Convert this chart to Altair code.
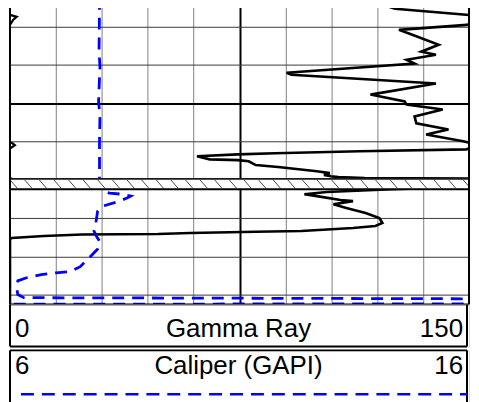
import altair as alt
import pandas as pd

# ---- scales ----
GR_MIN, GR_MAX = 0, 150
CAL_MIN, CAL_MAX = 6, 16
DEPTH_TOP, DEPTH_BOTTOM = 4973.5, 5052.5

# ---- Gamma Ray curve (depth, GAPI) ----
gr_depth = [4973.0, 4974.8, 4975.3, 4976.9, 4977.4, 4978.2, 4979.2, 4979.5, 4980.8, 4981.8,
            4984.7, 4986.5, 4987.3, 4988.6, 4989.6, 4992.0, 4992.5, 4994.8, 4997.7, 4999.5,
            5000.3, 5001.6, 5003.4, 5005.2, 5006.8, 5008.1, 5009.9, 5010.4, 5010.9, 5011.5,
            5012.0, 5012.5, 5013.0, 5013.3, 5013.8, 5014.6, 5014.8, 5015.1, 5016.1, 5016.6,
            5017.7, 5018.2, 5018.7, 5019.0, 5019.24, 5019.5, 5019.6, 5021.1, 5021.8, 5022.4,
            5023.1, 5023.7, 5024.2, 5025.2, 5025.5, 5026.3, 5027.3, 5028.6, 5029.9, 5031.2,
            5032.0, 5032.5, 5033.3, 5033.5, 5033.8, 5034.1, 5034.2, 5034.6, 5035.1, 5035.4,
            5053.0]
gr_value = [118.5, 123.9, 125.8, 150.0, 152.2, 151.0, 150.3, 149.3, 127.1, 130.6,
            140.1, 134.4, 139.2, 129.6, 132.2, 90.4, 92.0, 139.2, 117.8, 129.0,
            129.6, 141.4, 132.2, 132.8, 143.3, 136.0, 148.1, 150.8, 151.6, 150.5,
            149.2, 114.3, 86.6, 74.5, 61.1, 65.3, 74.5, 78.0, 80.3, 87.6,
            100.3, 104.5, 102.6, 104.8, 107.3, 115.9, 150.5, 151.0, 150.0, 124.8,
            103.5, 96.2, 100.3, 108.0, 112.1, 105.7, 109.9, 116.2, 120.7, 121.7,
            119.4, 112.1, 95.2, 80.3, 58.9, 48.4, 23.6, 11.1, 0.6, 0.0,
            0.0]

# ---- Caliper curve (depth, inches) ----
cal_depth = [4973.0, 4974.8, 4986.5, 4990.4, 4999.5, 5003.4, 5009.9, 5019.8, 5022.9, 5023.4,
             5023.7, 5024.2, 5024.7, 5025.7, 5026.8, 5028.1, 5031.2, 5033.3, 5034.8, 5035.9,
             5038.0, 5040.6, 5042.6, 5043.9, 5044.2, 5044.7, 5045.5, 5046.3, 5048.4, 5049.9,
             5050.7, 5051.0, 5052.3, 5052.4]
cal_value = [8.08, 7.95, 7.94, 7.96, 7.93, 7.96, 7.95, 7.95, 8.02, 8.17,
             8.44, 8.63, 8.55, 8.34, 8.02, 7.91, 7.87, 7.83, 7.89, 7.95,
             7.91, 7.70, 7.53, 7.32, 7.00, 6.68, 6.36, 6.17, 6.15, 6.17,
             6.30, 16.34, 16.34, 5.83]

# ---- grid, marker band, header texts ----
depth_grid = [4980, 4990, 5000, 5010, 5020, 5030, 5040, 5050]
heavy_depth = 5000
gr_grid = [15, 30, 45, 60, 75, 90, 105, 120, 135]
heavy_gr = 75
band_top = [5019.7]
band_bottom = [5022.4]
hatch_step = 4.777
gr_header = ["0", "Gamma Ray", "150"]
cal_header = ["6", "Caliper (GAPI)", "16"]

W, H = 461, 304
FONT = "Liberation Sans"
G = 10  # invisible guide margin that fixes the layout bounds

gr_df = pd.DataFrame({"depth": gr_depth, "gr": gr_value})
cal_df = pd.DataFrame({"depth": cal_depth, "cal": cal_value})
band_df = pd.DataFrame({"top": band_top, "bottom": band_bottom})
one = pd.DataFrame({"k": [0]})

yscale = alt.Scale(domain=[DEPTH_TOP, DEPTH_BOTTOM], reverse=True, nice=False, zero=False)
grscale = alt.Scale(domain=[GR_MIN, GR_MAX], nice=False, zero=False)
calscale = alt.Scale(domain=[CAL_MIN, CAL_MAX], nice=False, zero=False)

x_axis = alt.Axis(values=gr_grid, grid=True, labels=False, ticks=False, domain=False, title=None,
                  gridColor={"condition": {"test": f"datum.value === {heavy_gr}", "value": "#000000"},
                             "value": "#808080"},
                  gridWidth={"condition": {"test": f"datum.value === {heavy_gr}", "value": 2},
                             "value": 1},
                  gridOpacity=1)
y_axis = alt.Axis(values=depth_grid, grid=True, labels=False, ticks=False, domain=False, title=None,
                  gridColor={"condition": {"test": f"datum.value === {heavy_depth}", "value": "#000000"},
                             "value": "#3a3a3a"},
                  gridWidth={"condition": {"test": f"datum.value === {heavy_depth}", "value": 2},
                             "value": 1},
                  gridOpacity=1)

gamma = alt.Chart(gr_df).mark_line(color="black", strokeWidth=2.6, clip=True).encode(
    x=alt.X("gr:Q", scale=grscale, axis=x_axis),
    y=alt.Y("depth:Q", scale=yscale, axis=y_axis),
    order="depth:Q",
)
wrap = alt.Chart(gr_df).transform_calculate(
    wrap=f"datum.gr - {GR_MAX - GR_MIN}"
).mark_line(color="black", strokeWidth=2.2, clip=True).encode(
    x=alt.X("wrap:Q", scale=grscale, axis=None),
    y=alt.Y("depth:Q", scale=yscale, axis=y_axis),
    order="depth:Q",
)
caliper = alt.Chart(cal_df).mark_line(color="#0000FF", strokeWidth=2.8, strokeDash=[12, 8],
                                       clip=True).encode(
    x=alt.X("cal:Q", scale=calscale, axis=None),
    y=alt.Y("depth:Q", scale=yscale, axis=y_axis),
    order="depth:Q",
)
band = alt.Chart(band_df).mark_rect(fill="white", clip=True).encode(
    x=alt.value(0), x2=alt.value(W),
    y=alt.Y("top:Q", scale=yscale, axis=y_axis), y2="bottom:Q",
)
hatch = alt.Chart(alt.sequence(start=0, stop=GR_MAX + 2, step=hatch_step, as_="hx")).transform_calculate(
    hx2="datum.hx + 2.4"
).mark_rule(color="#333333", strokeWidth=0.9, clip=True).encode(
    x=alt.X("hx:Q", scale=grscale, axis=None), x2="hx2:Q",
    y=alt.YDatum(band_top[0] + 0.25, axis=y_axis), y2=alt.Y2Datum(band_bottom[0] - 0.25),
)
band_top_rule = alt.Chart(band_df).mark_rule(color="#1a1a1a", strokeWidth=1.6).encode(
    y=alt.Y("top:Q", scale=yscale, axis=y_axis), x=alt.value(0), x2=alt.value(W))
band_bot_rule = alt.Chart(band_df).mark_rule(color="black", strokeWidth=2).encode(
    y=alt.Y("bottom:Q", scale=yscale, axis=y_axis), x=alt.value(0), x2=alt.value(W))

left_b = alt.Chart(one).mark_rule(color="black", strokeWidth=2).encode(
    x=alt.value(0), y=alt.value(0), y2=alt.value(H))
right_b = alt.Chart(one).mark_rule(color="black", strokeWidth=2).encode(
    x=alt.value(W), y=alt.value(0), y2=alt.value(H))
bottom_b = alt.Chart(one).mark_rule(color="black", strokeWidth=2).encode(
    y=alt.value(H), x=alt.value(0), x2=alt.value(W))
# invisible guide that pins the top-left corner of the layout bounds
guide = alt.Chart(one).mark_rule(strokeOpacity=0, stroke="white").encode(
    x=alt.value(-G), x2=alt.value(W + G), y=alt.value(-G))

main = alt.layer(gamma, wrap, caliper, band, hatch, band_top_rule, band_bot_rule,
                 left_b, right_b, bottom_b, guide).resolve_scale(x="independent").properties(width=W, height=H)


def txt(label, align, x, y):
    return alt.Chart(one).mark_text(text=label, font=FONT, fontSize=26, align=align,
                                    baseline="alphabetic", color="black").encode(
        x=alt.value(x), y=alt.value(y))


HB, HC = 42, 52
RX = W - 2
hdr_gr = alt.layer(
    txt(gr_header[0], "left", 5, 32.7),
    txt(gr_header[1], "center", RX / 2, 32.7),
    txt(gr_header[2], "right", RX - 4, 32.7),
    alt.Chart(one).mark_rule(color="black", strokeWidth=2).encode(
        x=alt.value(0), y=alt.value(0), y2=alt.value(HB)),
    alt.Chart(one).mark_rule(color="black", strokeWidth=2).encode(
        x=alt.value(RX), y=alt.value(0), y2=alt.value(HB)),
    alt.Chart(one).mark_rule(color="black", strokeWidth=2).encode(
        y=alt.value(HB), x=alt.value(0), x2=alt.value(RX)),
).properties(width=W, height=HB)

hdr_cal = alt.layer(
    txt(cal_header[0], "left", 5, 23.3),
    txt(cal_header[1], "center", RX / 2, 23.3),
    txt(cal_header[2], "right", RX - 4, 23.3),
    alt.Chart(one).mark_rule(color="black", strokeWidth=2).encode(
        x=alt.value(0), y=alt.value(0), y2=alt.value(HC)),
    alt.Chart(one).mark_rule(color="black", strokeWidth=2).encode(
        x=alt.value(RX), y=alt.value(0), y2=alt.value(HC)),
    alt.Chart(one).mark_rule(color="black", strokeWidth=2).encode(
        y=alt.value(0), x=alt.value(0), x2=alt.value(RX)),
    alt.Chart(one).mark_rule(color="#0000FF", strokeWidth=2.6, strokeDash=[13, 8]).encode(
        y=alt.value(44), x=alt.value(11), x2=alt.value(RX)),
).properties(width=W, height=HC)

chart = alt.vconcat(
    main, alt.vconcat(hdr_gr, hdr_cal, spacing=4, bounds="flush"), spacing=0, bounds="flush"
).properties(
    padding={"left": -9, "top": -18, "right": -9, "bottom": -2}
).configure_view(stroke=None).configure(background="white")

chart.save("out.html", embed_options={"renderer": "svg", "actions": False})
